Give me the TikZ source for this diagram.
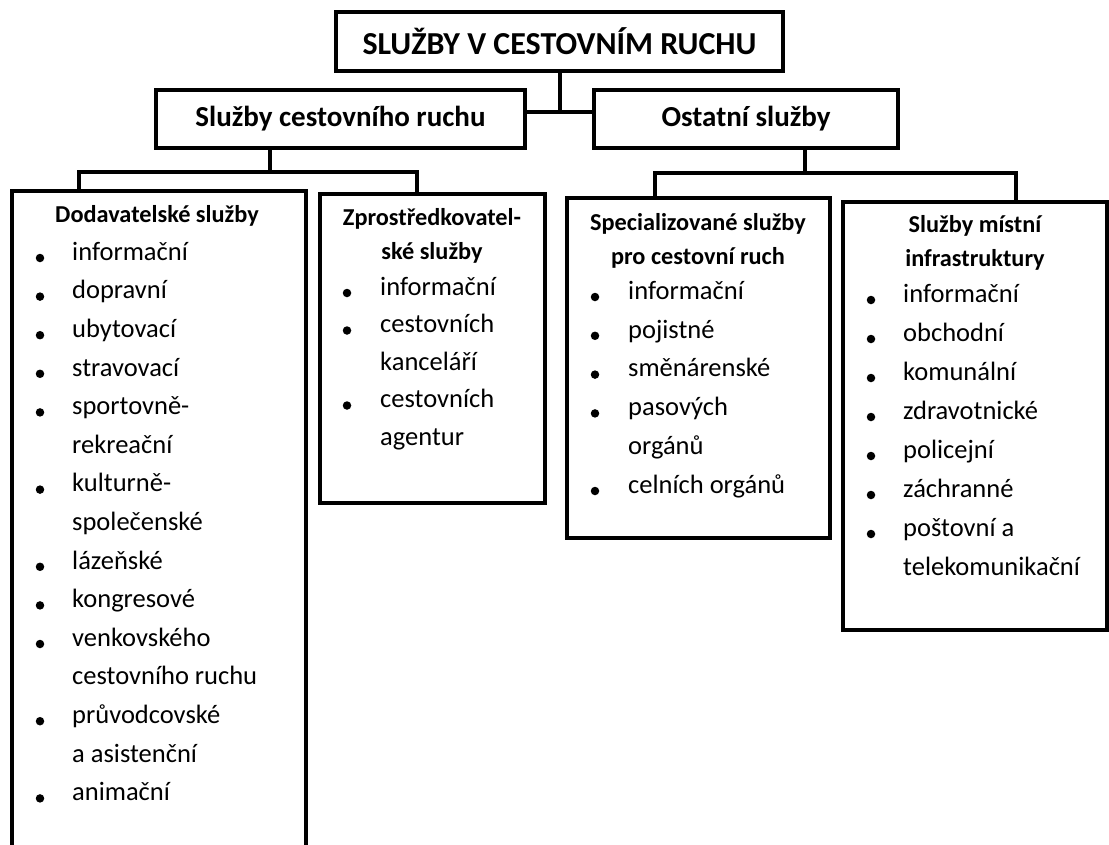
\documentclass[tikz,border=0pt]{standalone}
\usepackage{fontspec}
\setmainfont{Carlito}
\usetikzlibrary{calc}
\begin{document}
\begin{tikzpicture}[x=1pt,y=-1pt,
  box/.style={draw, line width=4pt, inner sep=0pt, outer sep=0pt, anchor=north west},
  conn/.style={line width=4pt},
  hd/.style={font=\fontsize{24.3}{28}\selectfont\bfseries, inner sep=0pt, anchor=mid},
  it/.style={font=\fontsize{26.5}{30}\selectfont, inner sep=0pt, anchor=mid west},
  dot/.style={circle, fill, inner sep=0pt, minimum size=8.5pt},
]
\useasboundingbox (0,0) rectangle (1109,844);

% boxes
\node[box, minimum width=447pt, minimum height=59pt, font=\fontsize{32}{38}\selectfont\bfseries] (top) at (336,12) {SLUŽBY V CESTOVNÍM RUCHU};
\node[box, minimum width=369pt, minimum height=58pt, font=\fontsize{29}{34}\selectfont\bfseries] (l1) at (156,90) {Služby cestovního ruchu};
\node[box, minimum width=304pt, minimum height=58pt, font=\fontsize{29}{34}\selectfont\bfseries] (o1) at (594,90) {Ostatní služby};
\node[box, minimum width=294pt, minimum height=720pt] (dod) at (12,191) {};
\node[box, minimum width=225pt, minimum height=309pt] (zp) at (320,194) {};
\node[box, minimum width=263pt, minimum height=340pt] (sp) at (567,198) {};
\node[box, minimum width=264pt, minimum height=428pt] (mi) at (843,202) {};

% connectors
\path (top.south) ++(0,41) coordinate (j1);
\draw[conn] (top.south) -- (j1);
\draw[conn] (l1.east |- j1) -- (o1.west |- j1);

\path (l1.south west) ++(114,0) coordinate (b1);
\path (b1) ++(0,24) coordinate (h1);
\draw[conn] (b1) -- (h1);
\draw[conn] ($(dod.north west)+(67,0)$) |- (h1) -| ($(zp.north west)+(97,0)$);

\path (o1.south west) ++(211,0) coordinate (b2);
\path (b2) ++(0,25) coordinate (h2);
\draw[conn] (b2) -- (h2);
\draw[conn] ($(sp.north west)+(88,0)$) |- (h2) -| ($(mi.north west)+(173,0)$);

% headers
\node[hd] (dodh) at (157,220) {Dodavatelské služby};
\node[hd] (zph1) at (432,223) {Zprostředkovatel-};
\node[hd] (zph2) at (432,257) {ské služby};
\node[hd] (sph1) at (698,228) {Specializované služby};
\node[hd] (sph2) at (698,262) {pro cestovní ruch};
\node[hd] (mih1) at (975,230) {Služby místní};
\node[hd] (mih2) at (975,264) {infrastruktury};

% lists
\foreach \b/\t [count=\i from 0] in {1/informační,1/dopravní,1/ubytovací,1/stravovací,1/sportovně-,0/rekreační,1/kulturně-,0/společenské,1/lázeňské,1/kongresové,1/venkovského,0/cestovního ruchu,1/průvodcovské,0/a asistenční,1/animační}{
  \node[it] (d\i) at (72,258+\i*38.6) {\t};
  \ifnum\b=1 \node[dot] (dd\i) at (40,258+\i*38.6) {};\fi
}
\foreach \b/\t [count=\i from 0] in {1/informační,1/cestovních,0/kanceláří,1/cestovních,0/agentur}{
  \node[it] (z\i) at (380,293+\i*37.5) {\t};
  \ifnum\b=1 \node[dot] (zd\i) at (347,293+\i*37.5) {};\fi
}
\foreach \b/\t [count=\i from 0] in {1/informační,1/pojistné,1/směnárenské,1/pasových,0/orgánů,1/celních orgánů}{
  \node[it] (s\i) at (628,297+\i*38.8) {\t};
  \ifnum\b=1 \node[dot] (sd\i) at (595,297+\i*38.8) {};\fi
}
\foreach \b/\t [count=\i from 0] in {1/informační,1/obchodní,1/komunální,1/zdravotnické,1/policejní,1/záchranné,1/poštovní a,0/telekomunikační}{
  \node[it] (m\i) at (903,300+\i*39) {\t};
  \ifnum\b=1 \node[dot] (md\i) at (871,300+\i*39) {};\fi
}
\end{tikzpicture}
\end{document}
